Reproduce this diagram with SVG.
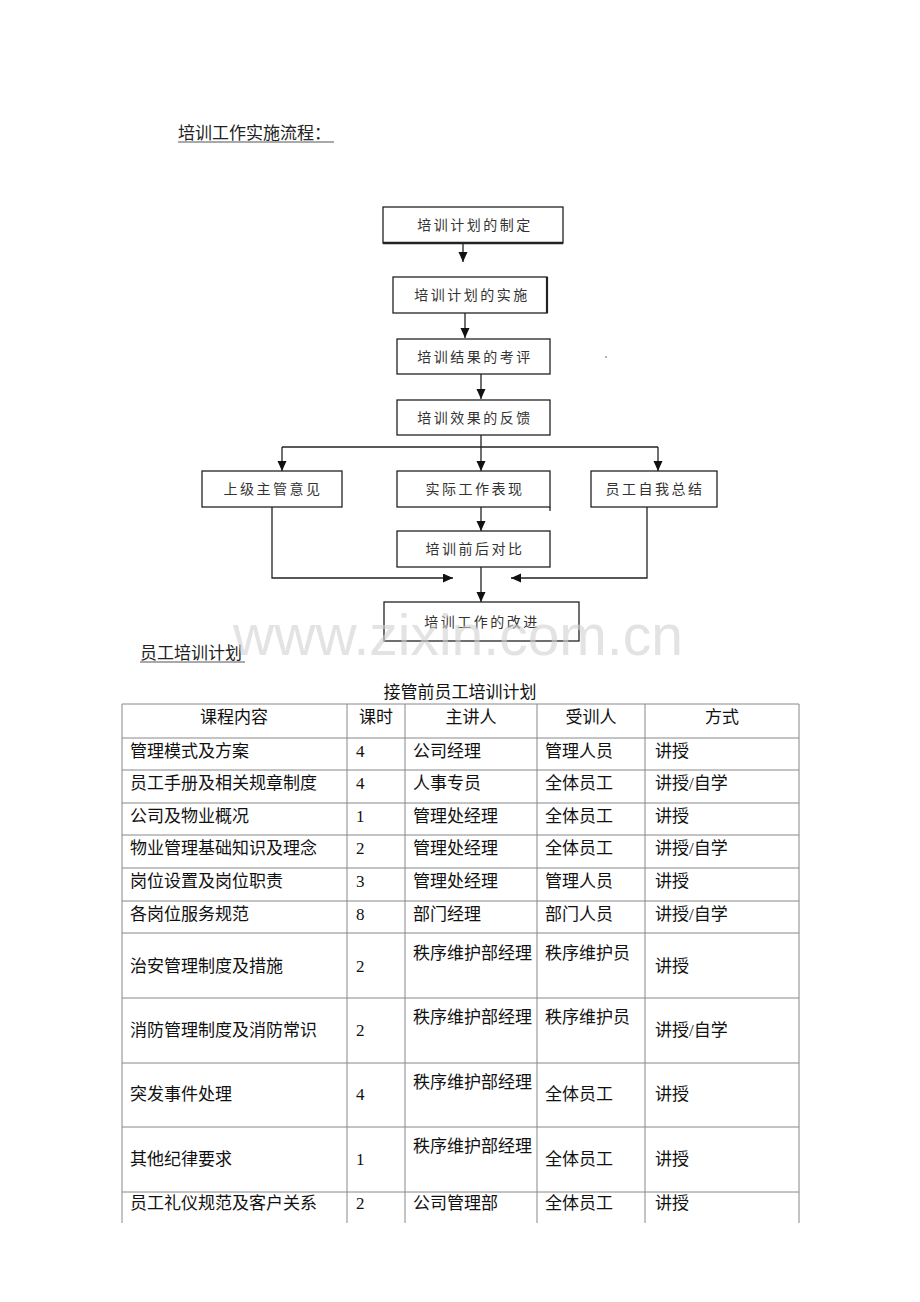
<svg xmlns="http://www.w3.org/2000/svg" width="920" height="1302" viewBox="0 0 920 1302">
<defs>
<marker id="ah" markerUnits="userSpaceOnUse" markerWidth="10" markerHeight="10" refX="10" refY="4.5" orient="auto">
<path d="M0,0 L10,4.5 L0,9 z" fill="#111"/>
</marker>
<style>
.bx{fill:#fff;stroke:#222;stroke-width:1.3}
.ft{font-family:"Noto Sans CJK SC",sans-serif;font-size:14px;letter-spacing:2.5px;fill:#333;text-anchor:middle}
.ln{fill:none;stroke:#222;stroke-width:1.3}
.hd{font-family:"Liberation Serif","Noto Sans CJK SC",serif;font-size:17px;fill:#222}
.tl{stroke:#888;stroke-width:1;fill:none}
.tt{font-family:"Liberation Serif","Noto Sans CJK SC",serif;font-size:17px;fill:#111}
.tc{text-anchor:middle}
.wm{font-family:"Liberation Sans",Arial,sans-serif;font-size:57px;fill:#d0d0d0;fill-opacity:0.6;text-anchor:middle}
</style>
</defs>
<rect width="920" height="1302" fill="#fff"/>

<g id="title1">
<text class="hd" x="178" y="139" font-size="16">培训工作实施流程：</text>
<line x1="178" y1="142" x2="334" y2="142" stroke="#555" stroke-width="1.2"/>
</g>

<g id="connectors">
<line class="ln" x1="463" y1="243" x2="463" y2="262" marker-end="url(#ah)"/>
<line class="ln" x1="465" y1="313" x2="465" y2="338" marker-end="url(#ah)"/>
<line class="ln" x1="481" y1="374" x2="481" y2="399" marker-end="url(#ah)"/>
<line class="ln" x1="481" y1="435" x2="481" y2="447"/>
<line class="ln" x1="282" y1="447" x2="658" y2="447"/>
<line class="ln" x1="282" y1="447" x2="282" y2="471" marker-end="url(#ah)"/>
<line class="ln" x1="481" y1="447" x2="481" y2="471" marker-end="url(#ah)"/>
<line class="ln" x1="658" y1="447" x2="658" y2="471" marker-end="url(#ah)"/>
<line class="ln" x1="481" y1="507" x2="481" y2="531" marker-end="url(#ah)"/>
<polyline class="ln" points="272,507 272,578 453,578" marker-end="url(#ah)"/>
<polyline class="ln" points="647,507 647,578 511,578" marker-end="url(#ah)"/>
<line class="ln" x1="481" y1="567" x2="481" y2="602" marker-end="url(#ah)"/>
</g>

<g id="n1"><rect class="bx" x="383" y="207" width="180" height="36"/><line x1="383" y1="243" x2="563" y2="243" stroke="#222" stroke-width="2.5"/><text class="ft" x="475" y="230">培训计划的制定</text></g>
<g id="n2"><rect class="bx" x="393" y="277" width="154" height="36"/><line x1="547" y1="277" x2="547" y2="313" stroke="#222" stroke-width="2.2"/><text class="ft" x="472" y="300">培训计划的实施</text></g>
<g id="n3"><rect class="bx" x="397" y="339" width="153" height="35"/><text class="ft" x="475" y="362">培训结果的考评</text></g>
<g id="n4"><rect class="bx" x="397" y="400" width="153" height="35"/><text class="ft" x="475" y="423">培训效果的反馈</text></g>
<g id="n5"><rect class="bx" x="202" y="471" width="140" height="36"/><text class="ft" x="273" y="494">上级主管意见</text></g>
<g id="n6"><rect class="bx" x="397" y="471" width="153" height="36"/><line x1="550" y1="507" x2="550" y2="511" stroke="#222" stroke-width="1.3"/><text class="ft" x="475" y="494">实际工作表现</text></g>
<g id="n7"><rect class="bx" x="591" y="471" width="126" height="36"/><text class="ft" x="655" y="494">员工自我总结</text></g>
<g id="n8"><rect class="bx" x="397" y="531" width="153" height="36"/><text class="ft" x="475" y="554">培训前后对比</text></g>
<g id="n9"><rect class="bx" x="384" y="602" width="195" height="39"/><text class="ft" x="482" y="627">培训工作的改进</text></g>
<circle cx="606" cy="357" r="0.8" fill="#555"/>

<g id="title2">
<text class="hd" x="140" y="659">员工培训计划</text>
<line x1="140" y1="662" x2="245" y2="662" stroke="#555" stroke-width="1.2"/>
</g>

<g id="table">
<text class="tt tc" x="460" y="698">接管前员工培训计划</text>
<g class="tl">
<line x1="122" y1="704" x2="799" y2="704"/>
<line x1="122" y1="738" x2="799" y2="738"/>
<line x1="122" y1="770" x2="799" y2="770"/>
<line x1="122" y1="803" x2="799" y2="803"/>
<line x1="122" y1="835" x2="799" y2="835"/>
<line x1="122" y1="868" x2="799" y2="868"/>
<line x1="122" y1="901" x2="799" y2="901"/>
<line x1="122" y1="933" x2="799" y2="933"/>
<line x1="122" y1="998" x2="799" y2="998"/>
<line x1="122" y1="1063" x2="799" y2="1063"/>
<line x1="122" y1="1127" x2="799" y2="1127"/>
<line x1="122" y1="1192" x2="799" y2="1192"/>
<line x1="122" y1="704" x2="122" y2="1223"/>
<line x1="347" y1="704" x2="347" y2="1223"/>
<line x1="405" y1="704" x2="405" y2="1223"/>
<line x1="537" y1="704" x2="537" y2="1223"/>
<line x1="645" y1="704" x2="645" y2="1223"/>
<line x1="799" y1="704" x2="799" y2="1223"/>
</g>
<g class="tt">
<text class="tc" x="234" y="723">课程内容</text>
<text class="tc" x="376" y="723">课时</text>
<text class="tc" x="471" y="723">主讲人</text>
<text class="tc" x="591" y="723">受训人</text>
<text class="tc" x="722" y="723">方式</text>

<text x="130" y="757">管理模式及方案</text><text x="356" y="757">4</text><text x="413" y="757">公司经理</text><text x="545" y="757">管理人员</text><text x="655" y="757">讲授</text>
<text x="130" y="789">员工手册及相关规章制度</text><text x="356" y="789">4</text><text x="413" y="789">人事专员</text><text x="545" y="789">全体员工</text><text x="655" y="789">讲授/自学</text>
<text x="130" y="822">公司及物业概况</text><text x="356" y="822">1</text><text x="413" y="822">管理处经理</text><text x="545" y="822">全体员工</text><text x="655" y="822">讲授</text>
<text x="130" y="854">物业管理基础知识及理念</text><text x="356" y="854">2</text><text x="413" y="854">管理处经理</text><text x="545" y="854">全体员工</text><text x="655" y="854">讲授/自学</text>
<text x="130" y="887">岗位设置及岗位职责</text><text x="356" y="887">3</text><text x="413" y="887">管理处经理</text><text x="545" y="887">管理人员</text><text x="655" y="887">讲授</text>
<text x="130" y="920">各岗位服务规范</text><text x="356" y="920">8</text><text x="413" y="920">部门经理</text><text x="545" y="920">部门人员</text><text x="655" y="920">讲授/自学</text>

<text x="130" y="972">治安管理制度及措施</text><text x="356" y="972">2</text><text x="413" y="959">秩序维护部经理</text><text x="545" y="959">秩序维护员</text><text x="655" y="972">讲授</text>
<text x="130" y="1036">消防管理制度及消防常识</text><text x="356" y="1036">2</text><text x="413" y="1023">秩序维护部经理</text><text x="545" y="1023">秩序维护员</text><text x="655" y="1036">讲授/自学</text>
<text x="130" y="1100">突发事件处理</text><text x="356" y="1100">4</text><text x="413" y="1088">秩序维护部经理</text><text x="545" y="1100">全体员工</text><text x="655" y="1100">讲授</text>
<text x="130" y="1165">其他纪律要求</text><text x="356" y="1165">1</text><text x="413" y="1152">秩序维护部经理</text><text x="545" y="1165">全体员工</text><text x="655" y="1165">讲授</text>
<text x="130" y="1209">员工礼仪规范及客户关系</text><text x="356" y="1209">2</text><text x="413" y="1209">公司管理部</text><text x="545" y="1209">全体员工</text><text x="655" y="1209">讲授</text>
</g>
</g>

<text class="wm" x="458" y="655">www.zixin.com.cn</text>
</svg>
